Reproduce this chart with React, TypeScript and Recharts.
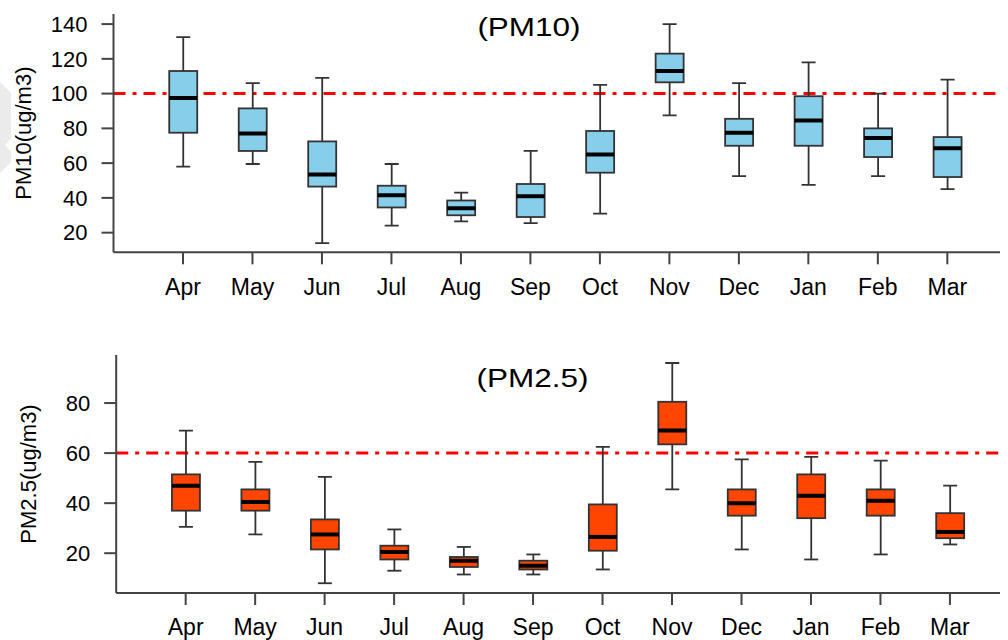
import React from 'react';
import { ComposedChart, Bar, XAxis, YAxis, ReferenceLine, Customized } from 'recharts';

// monthly distribution of particulate matter (min, Q1, median, Q3, max)
const months = ['Apr', 'May', 'Jun', 'Jul', 'Aug', 'Sep', 'Oct', 'Nov', 'Dec', 'Jan', 'Feb', 'Mar'];

const pm10Min = [58, 59.5, 14, 24, 26.5, 25.5, 31, 87.5, 52.5, 47.5, 52.5, 45];
const pm10Q1 = [77.5, 67, 46.5, 34.5, 30, 29, 54.5, 106.5, 70, 70, 63.5, 52];
const pm10Med = [97.5, 77, 53.5, 41.5, 34, 41, 65, 113, 77.5, 84.5, 74.5, 68.5];
const pm10Q3 = [113, 91.5, 72.5, 47, 38.5, 48, 78.5, 123, 85.5, 98.5, 80, 75];
const pm10Max = [132.5, 106, 109, 59.5, 43, 67, 105, 140, 106, 118, 100, 108];

const pm25Min = [30.5, 27.5, 8, 13, 11.5, 11.5, 13.5, 45.5, 21.5, 17.5, 19.5, 23.5];
const pm25Q1 = [37, 37, 21.5, 17.5, 14.5, 13.5, 21, 63.5, 35, 34, 35, 26];
const pm25Med = [47, 40.5, 27.5, 20.5, 17, 15, 26.5, 69, 40, 43, 41, 28.5];
const pm25Q3 = [51.5, 45.5, 33.5, 23, 18.5, 17, 39.5, 80.5, 45.5, 51.5, 45.5, 36];
const pm25Max = [69, 56.5, 50.5, 29.5, 22.5, 19.5, 62.5, 96, 57.5, 58.5, 57, 47];

const pm10Ticks = [20, 40, 60, 80, 100, 120, 140];
const pm25Ticks = [20, 40, 60, 80];
const pm10Limit = 100;
const pm25Limit = 60;

const positions = months.map((_, i) => i + 1);

const buildRows = (mins: number[], q1s: number[], meds: number[], q3s: number[], maxs: number[]) =>
  months.map((m, i) => ({
    month: m,
    pos: i + 1,
    min: mins[i],
    q1: q1s[i],
    med: meds[i],
    q3: q3s[i],
    max: maxs[i],
    range: [mins[i], maxs[i]],
  }));

const pm10Rows = buildRows(pm10Min, pm10Q1, pm10Med, pm10Q3, pm10Max);
const pm25Rows = buildRows(pm25Min, pm25Q1, pm25Med, pm25Q3, pm25Max);

const FONT = '"Liberation Sans", Arial, sans-serif';
const AXIS = '#444';
const EDGE = '#333';

// draws whisker, caps, box and median inside the bar's [min, max] rectangle
const BoxShape = (props: any) => {
  const { x, y, width, height, payload, boxFill } = props;
  if (x == null || y == null) return null;
  const top = Math.min(y, y + height);
  const h = Math.abs(height);
  const cx = x + width / 2;
  const { min, q1, med, q3, max } = payload;
  const toY = (v: number) => top + (h * (max - v)) / (max - min);
  const half = width / 2;
  const cap = width / 4;
  return (
    <g>
      <line x1={cx} x2={cx} y1={toY(max)} y2={toY(min)} stroke={EDGE} strokeWidth={1.8} />
      <line x1={cx - cap} x2={cx + cap} y1={toY(max)} y2={toY(max)} stroke={EDGE} strokeWidth={1.8} />
      <line x1={cx - cap} x2={cx + cap} y1={toY(min)} y2={toY(min)} stroke={EDGE} strokeWidth={1.8} />
      <rect
        x={cx - half}
        y={toY(q3)}
        width={width}
        height={toY(q1) - toY(q3)}
        fill={boxFill}
        stroke={EDGE}
        strokeWidth={1.8}
      />
      <line x1={cx - half} x2={cx + half} y1={toY(med)} y2={toY(med)} stroke="#000" strokeWidth={4} />
    </g>
  );
};

interface PanelProps {
  rows: any[];
  width: number;
  height: number;
  margin: { top: number; right: number; bottom: number; left: number };
  yWidth: number;
  xHeight: number;
  domain: [number, number];
  ticks: number[];
  limit: number;
  fill: string;
  title: string;
  titleX: number;
  titleY: number;
  yLabel: string;
  yLabelX: number;
}

const Panel: React.FC<PanelProps> = (p) => {
  const plotMid = p.margin.top + (p.height - p.margin.top - p.margin.bottom - p.xHeight) / 2;
  return (
    <ComposedChart width={p.width} height={p.height} data={p.rows} margin={p.margin}>
      <XAxis
        xAxisId="frame"
        orientation="top"
        type="number"
        dataKey="pos"
        domain={[0, 13]}
        allowDataOverflow
        tick={false}
        tickLine={false}
        height={0}
        stroke={AXIS}
        strokeWidth={2}
      />
      <XAxis
        type="number"
        dataKey="pos"
        domain={[0, 13]}
        allowDataOverflow
        ticks={positions}
        interval={0}
        tickFormatter={(v: number) => months[v - 1]}
        tickSize={12}
        tickMargin={14}
        height={p.xHeight}
        stroke={AXIS}
        strokeWidth={2}
        tick={{ fill: '#000', fontSize: 23, fontFamily: FONT }}
      />
      <YAxis
        type="number"
        domain={p.domain}
        allowDataOverflow
        ticks={p.ticks}
        interval={0}
        width={p.yWidth}
        tickSize={12}
        tickMargin={14}
        stroke={AXIS}
        strokeWidth={2}
        tick={{ fill: '#000', fontSize: 22, fontFamily: FONT }}
      />
      {/* limit line sits under the boxes */}
      <ReferenceLine y={p.limit} stroke="#ff0000" strokeWidth={3} strokeDasharray="12 7 4 7" zIndex={100} />
      <Bar
        dataKey="range"
        barSize={28}
        isAnimationActive={false}
        shape={(props: any) => <BoxShape {...props} boxFill={p.fill} />}
      />
      <Customized
        component={() => (
          <g>
            <text
              transform={`translate(${p.titleX}, ${p.titleY}) scale(1.26, 1)`}
              textAnchor="middle"
              fontSize={25}
              fontFamily={FONT}
              fill="#000"
            >
              {p.title}
            </text>
            <text
              x={p.yLabelX}
              y={plotMid}
              transform={`rotate(-90, ${p.yLabelX}, ${plotMid})`}
              textAnchor="middle"
              dominantBaseline="central"
              fontSize={22}
              fontFamily={FONT}
              fill="#000"
            >
              {p.yLabel}
            </text>
          </g>
        )}
      />
    </ComposedChart>
  );
};

export default function App() {
  return (
    <>
      {/* faint side marker at the left page edge */}
      <svg width={20} height={200} style={{ position: 'absolute', left: 0, top: 0, zIndex: -1 }}>
        <polygon points="0,82 11,93 11,138 5,145 11,152 11,162 0,173" fill="#ebebeb" />
      </svg>
      <div style={{ width: 1000, height: 632, overflow: 'hidden' }}>
        <Panel
          rows={pm10Rows}
          width={1012}
          height={310}
          margin={{ top: 6, right: 3.2, bottom: 5.7, left: 0 }}
          yWidth={105.5}
          xHeight={60}
          domain={[8.7, 145.8]}
          ticks={pm10Ticks}
          limit={pm10Limit}
          fill="#87ceeb"
          title="(PM10)"
          titleX={521}
          titleY={28}
          yLabel="PM10(ug/m3)"
          yLabelX={16}
        />
        <Panel
          rows={pm25Rows}
          width={1014}
          height={322}
          margin={{ top: 37, right: 2.6, bottom: 7, left: 0 }}
          yWidth={108.2}
          xHeight={40}
          domain={[4.1, 99.2]}
          ticks={pm25Ticks}
          limit={pm25Limit}
          fill="#ff4500"
          title="(PM2.5)"
          titleX={524.5}
          titleY={68.7}
          yLabel="PM2.5(ug/m3)"
          yLabelX={20}
        />
      </div>
    </>
  );
}
